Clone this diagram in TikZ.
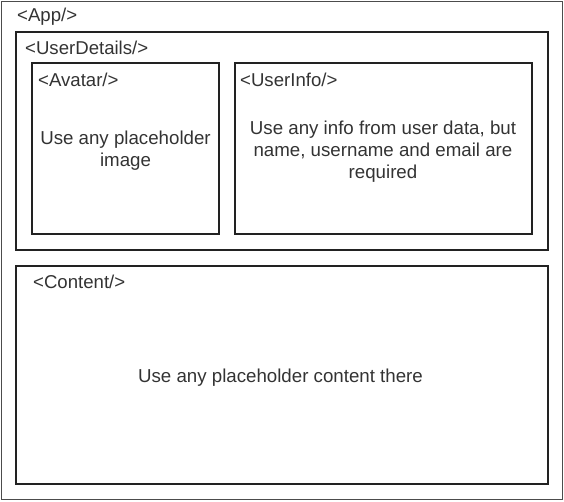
\documentclass[tikz,border=0pt]{standalone}
\usepackage{fontspec}
\setmainfont{Liberation Sans}
\definecolor{txt}{HTML}{333333}
\definecolor{edge}{HTML}{222222}
\begin{document}
\begin{tikzpicture}[x=1pt,y=-1pt,
  box/.style={draw=edge,line width=1.6pt,rectangle,inner sep=0pt,outer sep=0pt},
  lbl/.style={anchor=west,inner sep=0pt,text=txt,font=\fontsize{18.6}{22}\selectfont},
  body/.style={align=center,inner sep=0pt,text=txt,font=\fontsize{18.7}{22}\selectfont}]
\useasboundingbox (0,0) rectangle (564,501);
\node[draw=black!70,line width=1pt,rectangle,inner sep=0pt,minimum width=561pt,minimum height=498pt] (app) at (281.5,250) {};
\node[box,minimum width=532pt,minimum height=218pt] (ud) at (282,141) {};
\node[box,minimum width=187pt,minimum height=171pt] (av) at (125.5,148.5) {};
\node[box,minimum width=297pt,minimum height=171pt] (ui) at (383.5,148.5) {};
\node[box,minimum width=532pt,minimum height=218pt] (ct) at (282,375) {};
\node[lbl] (applbl) at (17,17) {<App/>};
\node[lbl] (udlbl) at (25,48) {<UserDetails/>};
\node[lbl] (avlbl) at (38,80) {<Avatar/>};
\node[lbl] (uilbl) at (240,80) {<UserInfo/>};
\node[lbl] (ctlbl) at (33,282) {<Content/>};
\node[body] (avtxt) at (125.5,151) {Use any placeholder\\image};
\node[body] (uitxt) at (383,151.5) {Use any info from user data, but\\name, username and email are\\required};
\node[body] (cttxt) at (280.5,377.5) {Use any placeholder content there};
\end{tikzpicture}
\end{document}
